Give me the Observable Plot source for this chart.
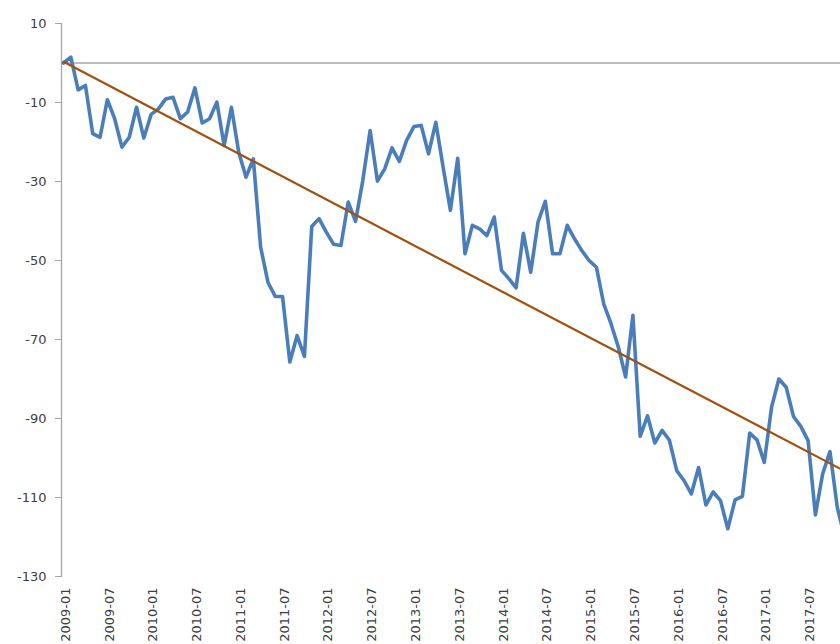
<!DOCTYPE html>
<html>
<head>
<meta charset="utf-8">
<script src="https://cdn.jsdelivr.net/npm/d3@7"></script>
<script src="https://cdn.jsdelivr.net/npm/@observablehq/plot@0.6"></script>
<style>
  html, body { margin: 0; padding: 0; background: #ffffff; }
  #chart { width: 840px; height: 644px; overflow: hidden; }
</style>
</head>
<body>
<div id="chart"></div>
<script>
// Categories: monthly periods 2009-01 .. 2017-12
const months = d3.utcMonth.range(new Date(Date.UTC(2009, 0, 1)), new Date(Date.UTC(2018, 0, 1)))
  .map(d3.utcFormat("%Y-%m"));

// Series values (one per month)
const values = [
  0, 1.5, -6.8, -5.7, -17.9, -18.8, -9.3, -14.1, -21.3, -18.8, -11.2, -19.0,
  -13.0, -11.6, -9.1, -8.7, -14.1, -12.4, -6.3, -15.2, -14.1, -9.9, -20.9, -11.2,
  -22.6, -28.9, -24.3, -46.6, -55.5, -59.1, -59.1, -75.7, -69.0, -74.3, -41.4, -39.4,
  -42.8, -45.9, -46.2, -35.2, -40.1, -29.7, -17.1, -29.9, -26.8, -21.5, -24.9, -19.6,
  -16.1, -15.8, -23.0, -15.0, -26.4, -37.3, -24.1, -48.3, -41.1, -42.0, -43.7, -39.0,
  -52.5, -54.6, -56.9, -43.1, -53.0, -40.3, -35.0, -48.3, -48.3, -41.1, -44.5, -47.5,
  -50.0, -51.7, -61.0, -66.0, -71.9, -79.5, -63.9, -94.5, -89.3, -96.2, -93.0, -95.5,
  -103.2, -105.7, -109.1, -102.4, -111.9, -108.6, -110.8, -117.9, -110.6, -109.7, -93.7, -95.4,
  -101.1, -87.1, -80.0, -82.1, -89.5, -92.0, -95.6, -114.4, -104.0, -98.4, -112.5, -120.0
];

// Linear trend line end points
const trendMonths = ["2009-01", "2017-12"];
const trendValues = [0.3, -103.3];

// Tick labels
const yTicks = [10, -10, -30, -50, -70, -90, -110, -130];
const xTickLabels = months.filter((m, i) => i % 6 === 0);

const series = months.map((m, i) => ({i, month: m, value: values[i]}));
const trend = trendMonths.map((m, k) => ({i: months.indexOf(m), value: trendValues[k]}));
const xTicks = xTickLabels.map(m => months.indexOf(m));

const chart = Plot.plot({
  width: 840,
  height: 644,
  marginLeft: 61,
  marginRight: 0,
  marginTop: 23,
  marginBottom: 68,
  style: {fontFamily: "DejaVu Sans, Verdana, sans-serif", fontSize: "13px", color: "#404040", background: "#ffffff"},
  x: {type: "linear", domain: [-0.28, 106.44], label: null},
  y: {domain: [d3.min(yTicks), d3.max(yTicks)], label: null},
  marks: [
    Plot.ruleY([0], {stroke: "#a6a6a6", strokeWidth: 1.3}),
    Plot.frame({anchor: "left", stroke: "#a6a6a6", strokeWidth: 1.3}),
    Plot.axisY({ticks: yTicks, tickFormat: d => String(d), tickSize: 6, tickPadding: 9, stroke: "#a6a6a6", fontSize: 13, fill: "#404040", label: null}),
    Plot.axisX({ticks: xTicks, tickFormat: i => months[i], tickRotate: -90, tickSize: 0, tickPadding: 11, fontSize: 13, fill: "#404040", label: null, dx: 2}),
    Plot.line(series, {x: "i", y: "value", stroke: "#4a7ebb", strokeWidth: 3.6, strokeLinejoin: "round", clip: true}),
    Plot.line(trend, {x: "i", y: "value", stroke: "#a0500f", strokeWidth: 2.2, clip: true})
  ]
});
document.getElementById("chart").appendChild(chart);
</script>
</body>
</html>
